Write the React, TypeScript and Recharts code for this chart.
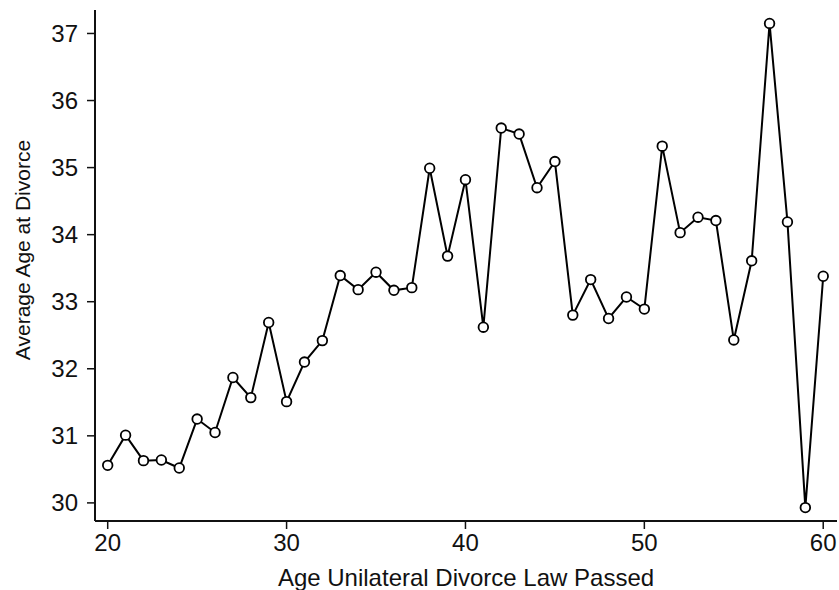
import React from "react";
import { LineChart, Line, XAxis, YAxis } from "recharts";

const ages = [20, 21, 22, 23, 24, 25, 26, 27, 28, 29, 30, 31, 32, 33, 34, 35, 36, 37, 38, 39, 40, 41, 42, 43, 44, 45, 46, 47, 48, 49, 50, 51, 52, 53, 54, 55, 56, 57, 58, 59, 60];
const avgAge = [30.56, 31.01, 30.63, 30.64, 30.52, 31.25, 31.05, 31.87, 31.57, 32.69, 31.51, 32.1, 32.42, 33.39, 33.18, 33.44, 33.17, 33.21, 34.99, 33.68, 34.82, 32.62, 35.59, 35.5, 34.7, 35.09, 32.8, 33.33, 32.75, 33.07, 32.89, 35.32, 34.03, 34.26, 34.21, 32.43, 33.61, 37.15, 34.19, 29.93, 33.38];
const xTicks = [20, 30, 40, 50, 60];
const yTicks = [30, 31, 32, 33, 34, 35, 36, 37];
const xTitle = "Age Unilateral Divorce Law Passed";
const yTitle = "Average Age at Divorce";

const data = ages.map((a, i) => ({ age: a, value: avgAge[i] }));

const FONT = "'Liberation Sans', Arial, Helvetica, sans-serif";

const XTitle = () => (
  <text x={466} y={586} textAnchor="middle" fontFamily={FONT} fontSize={24} fill="#111">
    {xTitle}
  </text>
);

const YTitle = () => (
  <text
    x={22}
    y={250}
    transform="rotate(-90 22 250)"
    textAnchor="middle"
    dominantBaseline="central"
    fontFamily={FONT}
    fontSize={21}
    fill="#111"
  >
    {yTitle}
  </text>
);

export default function App() {
  return (
    <div style={{ position: "absolute", left: 0, top: 0, width: 839, height: 590, background: "#fff" }}>
      <LineChart width={839} height={590} data={data} margin={{ top: 10, right: 2, left: 0, bottom: 0 }}>
        <XAxis
          type="number"
          dataKey="age"
          domain={[19.29, 60.77]}
          allowDataOverflow
          ticks={xTicks}
          height={69}
          tickSize={8}
          tickMargin={5}
          axisLine={{ stroke: "#111", strokeWidth: 2 }}
          tickLine={{ stroke: "#111", strokeWidth: 1.5 }}
          tick={{ fill: "#111", fontSize: 24, fontFamily: FONT }}
          label={<XTitle />}
        />
        <YAxis
          type="number"
          domain={[29.73, 37.35]}
          allowDataOverflow
          ticks={yTicks}
          width={95}
          tickSize={8}
          tickMargin={9}
          axisLine={{ stroke: "#111", strokeWidth: 2 }}
          tickLine={{ stroke: "#111", strokeWidth: 1.5 }}
          tick={{ fill: "#111", fontSize: 24, fontFamily: FONT }}
          label={<YTitle />}
        />
        <Line
          type="linear"
          dataKey="value"
          stroke="#000"
          strokeWidth={2}
          dot={{ r: 4.8, fill: "#fff", stroke: "#000", strokeWidth: 1.8 }}
          isAnimationActive={false}
        />
      </LineChart>
    </div>
  );
}
